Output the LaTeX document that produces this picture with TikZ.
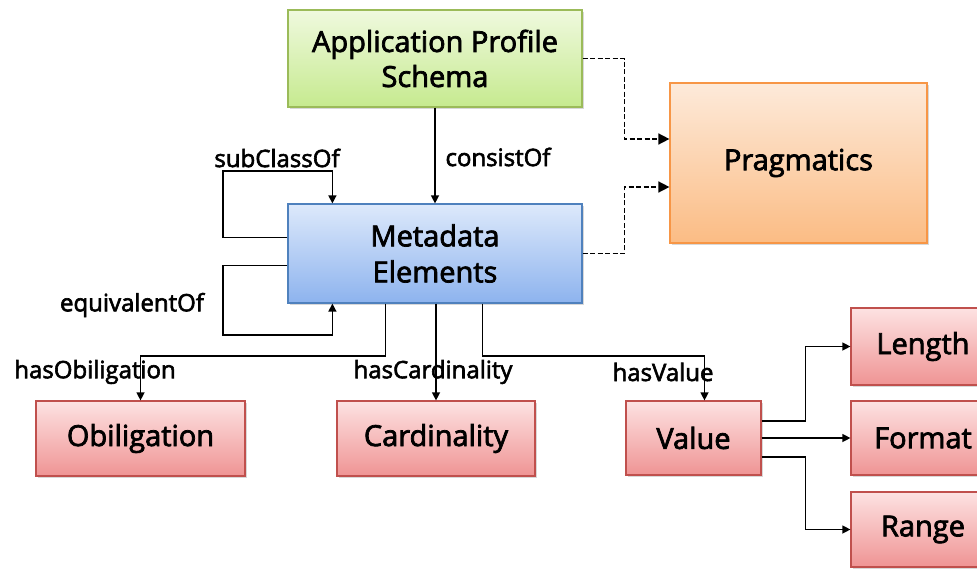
\documentclass[tikz,border=0pt]{standalone}
\usepackage{fontspec}
\setmainfont{Open Sans}[AutoFakeBold=2.5]
\usetikzlibrary{arrows.meta,calc,shadows}
\definecolor{gtop}{HTML}{EFF9DE}
\definecolor{gbot}{HTML}{C6EA8F}
\definecolor{gbrd}{HTML}{9BBB59}
\definecolor{btop}{HTML}{DDE9FB}
\definecolor{bbot}{HTML}{8DB3EE}
\definecolor{bbrd}{HTML}{4F81BD}
\definecolor{otop}{HTML}{FDEADA}
\definecolor{obot}{HTML}{FBBC84}
\definecolor{obrd}{HTML}{F79646}
\definecolor{rtop}{HTML}{FDE2E2}
\definecolor{rbot}{HTML}{EF9494}
\definecolor{rbrd}{HTML}{C0504D}
\tikzset{
  box/.style={rectangle, line width=1.2pt, align=center, inner sep=2pt,
    font=\fontsize{29}{35}\selectfont\bfseries,
    drop shadow={shadow xshift=1.5pt, shadow yshift=-1.5pt, fill=black!25, opacity=0.6}},
  gbox/.style={box, draw=gbrd, top color=gtop, bottom color=gbot},
  bbox/.style={box, draw=bbrd, top color=btop, bottom color=bbot},
  obox/.style={box, draw=obrd, top color=otop, bottom color=obot},
  rbox/.style={box, draw=rbrd, top color=rtop, bottom color=rbot},
  arr/.style={-{Triangle[length=8pt,width=8pt]}, line width=1.3pt, black},
  darr/.style={-{Triangle[length=11pt,width=11pt]}, line width=1.5pt, dash pattern=on 5pt off 2.5pt, black},
  lbl/.style={font=\fontsize{24}{28}\selectfont\bfseries, inner sep=0pt}
}
\begin{document}
\begin{tikzpicture}[x=1pt,y=-1pt]
\clip (0,0) rectangle (977,570);
\fill[white] (0,0) rectangle (977,570);
% nodes
\node[gbox, minimum width=294pt, minimum height=97pt] (aps) at (435,58.5) {Application Profile\\Schema};
\node[bbox, minimum width=294pt, minimum height=99pt] (meta) at (435,253.5) {Metadata\\[1pt]Elements};
\node[obox, minimum width=257pt, minimum height=160pt] (prag) at (798.5,163) {\raisebox{-4pt}{Pragmatics}};
\node[rbox, minimum width=209pt, minimum height=75pt] (obl) at (140.5,438.5) {Obiligation};
\node[rbox, minimum width=198pt, minimum height=75pt] (card) at (436,438.5) {Cardinality};
\node[rbox, minimum width=135pt, minimum height=74pt] (val) at (693.5,438) {Value};
\node[rbox, minimum width=144pt, minimum height=77pt] (len) at (923,346.5) {Length};
\node[rbox, minimum width=144pt, minimum height=74pt] (fmt) at (923,438) {Format};
\node[rbox, minimum width=144pt, minimum height=75pt] (rng) at (923,529.5) {Range};
\coordinate (hb) at (0,356);
\coordinate (vt) at ($(val.north)+(11,0)$);
% connectors
\draw[arr] (aps.south) -- (meta.north);
\draw[arr] ($(meta.north west)+(0,34)$) -| (223,171) -| ($(meta.north west)+(45,0)$);
\draw[arr] ($(meta.north west)+(0,62)$) -| (223,335) -| ($(meta.south west)+(45,0)$);
\draw[arr] ($(meta.south west)+(98,0)$) |- (obl.north |- hb) -- (obl.north);
\draw[arr] (card.north |- meta.south) -- (card.north);
\draw[arr] ($(meta.south west)+(195,0)$) |- (vt |- hb) -- (vt);
\draw[arr] ($(val.east)+(0,-17)$) -| ($(len.west)+(-45,0)$) -- (len.west);
\draw[arr] (val.east) -- (fmt.west);
\draw[arr] ($(val.east)+(0,19)$) -| ($(rng.west)+(-45,0)$) -- (rng.west);
\draw[darr] (aps.east) -| ($(prag.west)+(-45,-24)$) -- ($(prag.west)+(0,-24)$);
\draw[darr] (meta.east) -| ($(prag.west)+(-45,24)$) -- ($(prag.west)+(0,24)$);
% labels
\node[lbl] (lcons) at (498,157) {consistOf};
\node[lbl] (lsub) at (277,158) {subClassOf};
\node[lbl] (leq) at (132,305) {equivalentOf};
\node[lbl] (lobl) at (95,372) {hasObiligation};
\node[lbl] (lcard) at (433,372) {hasCardinality};
\node[lbl] (lval) at (663,372) {hasValue};
\end{tikzpicture}
\end{document}
